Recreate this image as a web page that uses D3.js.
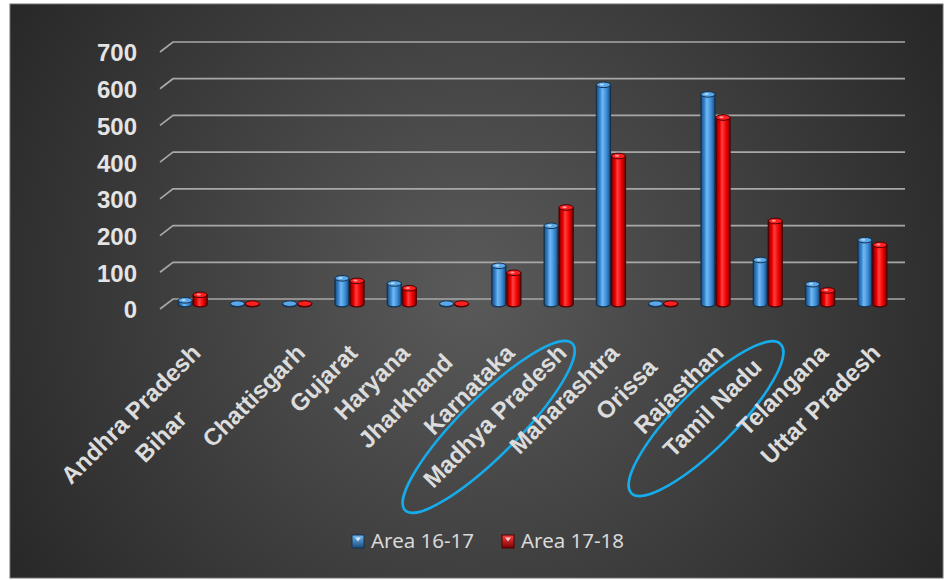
<!DOCTYPE html>
<html>
<head>
<meta charset="utf-8">
<script src="https://cdn.jsdelivr.net/npm/d3@7"></script>
<style>
  body { margin: 0; background: #ffffff; }
  svg { display: block; }
</style>
</head>
<body>
<div id="container"></div>
<script>

// data (trailing blanks kept as they appear in the source labels)
var categories = ["Andhra Pradesh", "Bihar              ", "Chattisgarh", "Gujarat", "Haryana",
  "Jharkhand  ", "Karnataka", "Madhya Pradesh", "Maharashtra", "Orissa   ", "Rajasthan",
  "Tamil Nadu   ", "Telangana", "Uttar Pradesh"];
var area1617 = [10, 1, 1, 70, 56, 1, 104, 213, 597, 1, 571, 120, 54, 174];
var area1718 = [25, 1, 1, 63, 43, 1, 85, 263, 403, 1, 508, 226, 37, 161];
var seriesNames = ["Area 16-17", "Area 17-18"];
var yTicks = [0, 100, 200, 300, 400, 500, 600, 700];
var circled = ["Madhya Pradesh", "Tamil Nadu"];

var width = 948, height = 580;
var depthX = 13, depthY = -10;

var svg = d3.select("div#container")
  .append("svg")
  .attr("width", width)
  .attr("height", height);

var defs = svg.append("defs");

var bg = defs.append("radialGradient").attr("id", "bg")
  .attr("gradientUnits", "userSpaceOnUse")
  .attr("cx", 470).attr("cy", 290).attr("r", 560);
bg.append("stop").attr("offset", "0%").attr("stop-color", "#5a5a5a");
bg.append("stop").attr("offset", "100%").attr("stop-color", "#262626");

// cylinder shading, one per series
var shades = [
  {id: "s0", edge: "#1a4b7e", mid: "#3c8cd6", light: "#70b9f4", cap: "#5aa8ea", line: "#14324f"},
  {id: "s1", edge: "#7a0000", mid: "#f20000", light: "#ff4040", cap: "#ff2020", line: "#4e0000"}
];
shades.forEach(function(s) {
  var g = defs.append("linearGradient").attr("id", s.id)
    .attr("x1", "0%").attr("x2", "100%").attr("y1", "0%").attr("y2", "0%");
  g.append("stop").attr("offset", "0%").attr("stop-color", s.edge);
  g.append("stop").attr("offset", "28%").attr("stop-color", s.mid);
  g.append("stop").attr("offset", "42%").attr("stop-color", s.light);
  g.append("stop").attr("offset", "72%").attr("stop-color", s.mid);
  g.append("stop").attr("offset", "100%").attr("stop-color", s.edge);
  var m = defs.append("linearGradient").attr("id", s.id + "m")
    .attr("x1", "0%").attr("x2", "0%").attr("y1", "0%").attr("y2", "100%");
  m.append("stop").attr("offset", "0%").attr("stop-color", s.light);
  m.append("stop").attr("offset", "100%").attr("stop-color", s.edge);
});

// chart panel
svg.append("rect")
  .attr("x", 10).attr("y", 4)
  .attr("width", 933).attr("height", 574)
  .attr("fill", "url(#bg)")
  .attr("stroke", "#6e6e6e").attr("stroke-width", 1);

// scales (front plane of the 3d box)
var x = d3.scaleBand().domain(categories).range([160, 892]);
var y = d3.scaleLinear().domain([0, 700]).range([309, 52]);
var xs = d3.scaleBand().domain(seriesNames).range([-15, 15]);

// gridlines on the back wall with the little floor diagonal
var grid = svg.append("g");
yTicks.forEach(function(t) {
  grid.append("path")
    .attr("d", "M" + x.range()[0] + "," + y(t) +
      "L" + (x.range()[0] + depthX) + "," + (y(t) + depthY) +
      "L" + (x.range()[1] + depthX) + "," + (y(t) + depthY))
    .attr("fill", "none")
    .attr("stroke", "#a8a8a8")
    .attr("stroke-width", 1.7);
});

// y labels
svg.append("g").selectAll("text")
  .data(yTicks)
  .enter().append("text")
  .attr("x", 137)
  .attr("y", function(d) { return y(d) + 1; })
  .attr("dy", "0.35em")
  .attr("text-anchor", "end")
  .style("font-family", "'Liberation Sans', Arial, sans-serif")
  .style("font-weight", "bold")
  .style("font-size", "24px")
  .style("fill", "#e4e4e4")
  .text(function(d) { return d; });

// bars as cylinders at mid depth
var rows = [];
categories.forEach(function(c, i) {
  rows.push({cat: c, s: 0, v: area1617[i]});
  rows.push({cat: c, s: 1, v: area1718[i]});
});

var r = 7, ry = 2.8;
function cx(d) { return x(d.cat) + x.bandwidth() / 2 + depthX / 2 + xs(seriesNames[d.s]) + xs.bandwidth() / 2; }
function yTop(d) { return y(d.v) + depthY / 2; }
function yBase() { return y(0) + depthY / 2; }

var bars = svg.append("g").selectAll("g")
  .data(rows)
  .enter().append("g");

bars.append("path")
  .attr("d", function(d) {
    var c = cx(d), t = yTop(d), b = yBase();
    return "M" + (c - r) + "," + t + "L" + (c - r) + "," + b +
      "A" + r + "," + ry + " 0 0 0 " + (c + r) + "," + b +
      "L" + (c + r) + "," + t + "Z";
  })
  .attr("fill", function(d) { return "url(#" + shades[d.s].id + ")"; })
  .attr("stroke", function(d) { return shades[d.s].line; })
  .attr("stroke-width", 1.3);

bars.append("ellipse")
  .attr("cx", cx)
  .attr("cy", yTop)
  .attr("rx", r)
  .attr("ry", ry)
  .attr("fill", function(d) { return shades[d.s].cap; })
  .attr("stroke", function(d) { return shades[d.s].line; })
  .attr("stroke-width", 1);

bars.append("ellipse")
  .attr("cx", function(d) { return cx(d) - 1.5; })
  .attr("cy", function(d) { return yTop(d) - 0.3; })
  .attr("rx", 2.2)
  .attr("ry", 1)
  .attr("fill", "#ffffff")
  .attr("opacity", function(d) { return d.v > 5 ? 0.55 : 0; });

// category labels, rotated
var labelFont = "'Liberation Sans', Arial, sans-serif";
var labels = svg.append("g").selectAll("g")
  .data(categories)
  .enter().append("g")
  .attr("transform", function(d) {
    return "translate(" + (x(d) + x.bandwidth() / 2 + 16) + ",354.5) rotate(-45)";
  });

labels.append("text")
  .attr("text-anchor", "end")
  .attr("xml:space", "preserve")
  .style("white-space", "pre")
  .style("font-family", labelFont)
  .style("font-weight", "bold")
  .style("font-size", "24px")
  .style("fill", "#dcdcdc")
  .text(function(d) { return d; });

// hand drawn rings round two states
var probe = svg.append("text")
  .attr("xml:space", "preserve")
  .style("white-space", "pre")
  .style("font-family", labelFont)
  .style("font-weight", "bold")
  .style("font-size", "24px");

labels.each(function(d) {
  var name = d.trim();
  if (circled.indexOf(name) < 0) return;
  probe.text(d);
  var full = probe.node().getComputedTextLength();
  probe.text(name);
  var len = probe.node().getComputedTextLength();
  var tail = full - len;
  d3.select(this).append("ellipse")
    .attr("cx", -(tail + len / 2 + 12))
    .attr("cy", -5)
    .attr("rx", len * 0.2 + 80)
    .attr("ry", 29)
    .attr("fill", "none")
    .attr("stroke", "#16abea")
    .attr("stroke-width", 2.6);
});
probe.remove();

// legend
var legend = svg.append("g").selectAll("g")
  .data(seriesNames)
  .enter().append("g")
  .attr("transform", function(d, i) { return "translate(" + (352 + i * 150) + ",535)"; });

legend.append("rect")
  .attr("width", 12).attr("height", 13)
  .attr("fill", function(d, i) { return "url(#" + shades[i].id + "m)"; })
  .attr("stroke", function(d, i) { return shades[i].line; })
  .attr("stroke-width", 1);

legend.append("path")
  .attr("d", "M3,2.5L9,2.5L6,6.5Z")
  .attr("fill", "#ffffff")
  .attr("opacity", 0.75);

legend.append("text")
  .attr("x", 19)
  .attr("y", 13)
  .style("font-family", "'Noto Sans', 'Open Sans', sans-serif")
  .style("font-size", "20.5px")
  .style("fill", "#d9d9d9")
  .text(function(d) { return d; });

</script>
</body>
</html>
